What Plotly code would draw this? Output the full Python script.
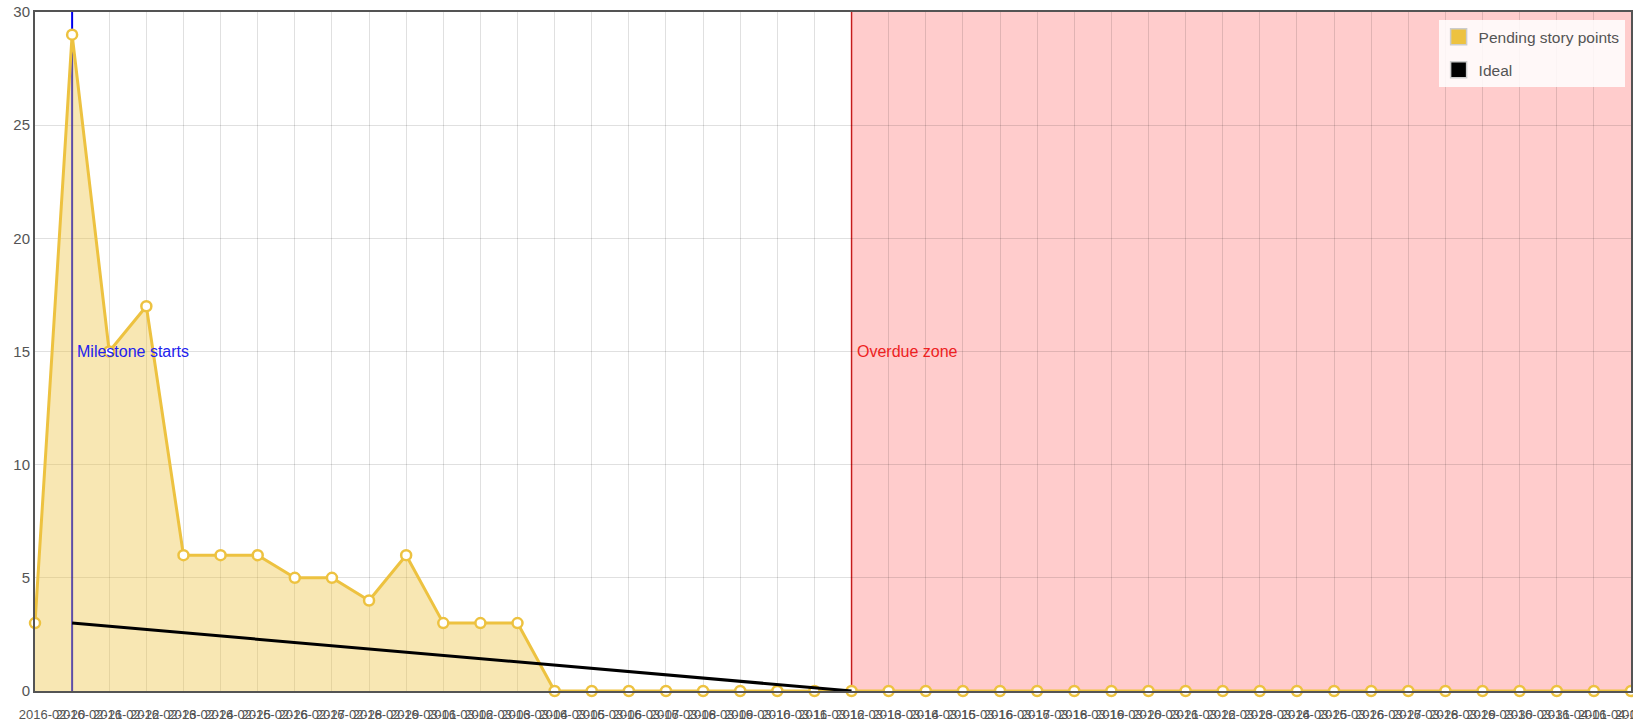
import datetime as dt
import plotly.graph_objects as go

# ---- data ----
start = dt.date(2016, 2, 20)
dates = [(start + dt.timedelta(days=i)).isoformat() for i in range(44)]
pending = [3, 29, 15, 17, 6, 6, 6, 5, 5, 4, 6, 3, 3, 3] + [0] * 30
ideal_x = [dates[1], dates[22]]
ideal_y = [3, 0]
milestone_start = dates[1]
overdue_start = dates[22]
y_ticks = [0, 5, 10, 15, 20, 25, 30]

YELLOW = "#edc240"
TXT = "#545454"
FONT = "Liberation Sans, Arial, sans-serif"

fig = go.Figure()

fig.add_trace(go.Scatter(
    x=dates, y=pending, mode="lines+markers",
    line=dict(color=YELLOW, width=3),
    fill="tozeroy", fillcolor="rgba(237,194,64,0.4)",
    marker=dict(symbol="circle", size=10, color="white",
                line=dict(color=YELLOW, width=2.5)),
    cliponaxis=False, showlegend=False, hoverinfo="x+y"))

fig.add_trace(go.Scatter(
    x=ideal_x, y=ideal_y, mode="lines",
    line=dict(color="black", width=3),
    showlegend=False))

# legend-only swatches
fig.add_trace(go.Scatter(x=[None], y=[None], mode="markers", name="Pending story points",
                         marker=dict(symbol="square", size=16, color=YELLOW,
                                     line=dict(color="#cccccc", width=1.5)),
                         legendgroup="a"))
fig.add_trace(go.Scatter(x=[None], y=[None], mode="markers", name="Ideal",
                         marker=dict(symbol="square", size=16, color="black",
                                     line=dict(color="#cccccc", width=1.5)),
                         legendgroup="b"))

fig.add_shape(type="rect", xref="x", yref="paper",
              x0=overdue_start, x1=dates[-1], y0=0, y1=1,
              fillcolor="rgba(255,0,0,0.2)", line=dict(width=0), layer="below")
fig.add_shape(type="line", xref="x", yref="paper",
              x0=overdue_start, x1=overdue_start, y0=0, y1=1,
              line=dict(color="#dd2222", width=1.5), layer="below")
fig.add_shape(type="line", xref="x", yref="paper",
              x0=milestone_start, x1=milestone_start, y0=0, y1=1,
              line=dict(color="#0000ff", width=2), layer="below")

fig.add_annotation(x=milestone_start, y=15, text="Milestone starts",
                   showarrow=False, xanchor="left", yanchor="middle", xshift=3,
                   font=dict(color="#2222ee", size=16, family=FONT))
fig.add_annotation(x=overdue_start, y=15, text="Overdue zone",
                   showarrow=False, xanchor="left", yanchor="middle", xshift=3,
                   font=dict(color="#ee2222", size=16, family=FONT))

fig.update_layout(
    width=1633, height=724,
    margin=dict(l=35, r=2, t=12, b=33),
    paper_bgcolor="white", plot_bgcolor="white",
    font=dict(family=FONT, color=TXT, size=13),
    legend=dict(x=0.996, y=0.988, xanchor="right", yanchor="top",
                bgcolor="rgba(255,255,255,0.85)", font=dict(size=15.5, color=TXT),
                tracegroupgap=10, traceorder="grouped", itemsizing="trace",
                itemwidth=30),
)
fig.update_xaxes(type="category", range=[0, len(dates) - 1], automargin=False,
                 tickmode="linear", tick0=0, dtick=1, tickangle=0,
                 ticklabelshift=17, ticklabelstandoff=10,
                 showgrid=True, gridcolor="rgba(0,0,0,0.12)", gridwidth=1,
                 showline=True, linecolor=TXT, linewidth=2, mirror=True,
                 ticks="", tickfont=dict(size=13, color=TXT), zeroline=False)
fig.update_yaxes(range=[0, 30], tickvals=y_ticks, automargin=False,
                 showgrid=True, gridcolor="rgba(0,0,0,0.12)", gridwidth=1,
                 showline=True, linecolor=TXT, linewidth=2, mirror=True,
                 ticks="", tickfont=dict(size=15, color=TXT), zeroline=False)

fig.write_html("out.html",
               config={"displayModeBar": False},
               post_script="document.body.style.margin='0';"
                           "document.body.style.overflow='hidden';")
